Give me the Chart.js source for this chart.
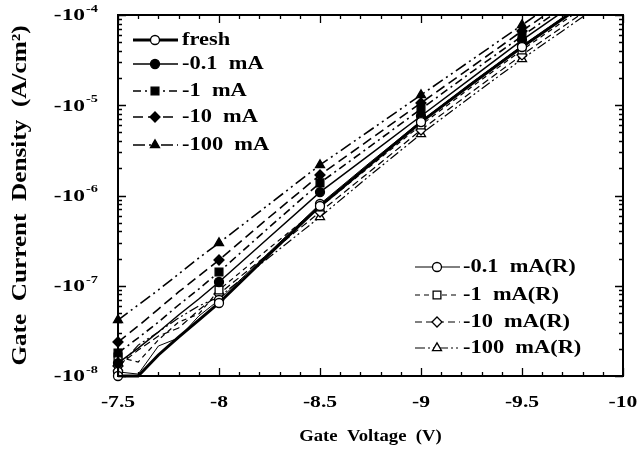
<!DOCTYPE html>
<html>
<head>
<meta charset="utf-8">
<script src="https://cdn.jsdelivr.net/npm/chart.js@4.4.1/dist/chart.umd.min.js"></script>
<style>
html,body{margin:0;padding:0;background:#fff;}
canvas{display:block;}
</style>
</head>
<body>
<canvas id="c" width="639" height="460"></canvas>
<script>
// Gate voltage (V) sample points
const volts = [-7.5,-7.6,-7.7,-7.8,-7.9,-8,-8.25,-8.5,-8.75,-9,-9.25,-9.5,-9.75,-10];
// voltages that carry a marker
const markerVolts = [-7.5,-8,-8.5,-9,-9.5];
// |gate current density| (A/cm^2); the plotted values are negative
const fresh  = [1.00e-8,1.00e-8,1.71e-8,2.70e-8,4.17e-8,6.44e-8,2.25e-7,7.65e-7,2.23e-6,6.51e-6,1.72e-5,4.42e-5,1.08e-4,2.64e-4];
const s01mA  = [1.39e-8,2.04e-8,3.07e-8,4.74e-8,7.13e-8,1.10e-7,3.47e-7,1.09e-6,2.88e-6,7.60e-6,2.00e-5,5.28e-5,1.29e-4,3.16e-4];
const s1mA   = [1.80e-8,2.64e-8,3.96e-8,6.12e-8,9.20e-8,1.42e-7,4.48e-7,1.38e-6,3.53e-6,9.08e-6,2.33e-5,5.85e-5,1.43e-4,3.49e-4];
const s10mA  = [2.38e-8,3.58e-8,5.52e-8,8.53e-8,1.28e-7,1.93e-7,5.78e-7,1.69e-6,4.23e-6,1.06e-5,2.65e-5,6.65e-5,1.63e-4,3.96e-4];
const s100mA = [4.17e-8,6.12e-8,8.98e-8,1.35e-7,2.03e-7,2.98e-7,8.05e-7,2.18e-6,5.32e-6,1.30e-5,3.17e-5,7.74e-5,1.89e-4,4.62e-4];
const r01mA  = [1.11e-8,1.05e-8,2.15e-8,2.64e-8,4.62e-8,6.95e-8,2.37e-7,8.05e-7,2.35e-6,6.68e-6,1.77e-5,4.54e-5,1.11e-4,2.70e-4];
const r1mA   = [1.62e-8,1.43e-8,2.51e-8,3.96e-8,4.86e-8,8.98e-8,2.62e-7,7.46e-7,2.12e-6,6.04e-6,1.59e-5,4.09e-5,1.00e-4,2.44e-4];
const r10mA  = [1.29e-8,1.94e-8,2.77e-8,3.40e-8,5.38e-8,8.11e-8,2.31e-7,6.56e-7,1.87e-6,5.32e-6,1.40e-5,3.61e-5,8.81e-5,2.15e-4];
const r100mA = [1.23e-8,2.20e-8,3.07e-8,4.40e-8,5.97e-8,7.50e-8,2.08e-7,5.78e-7,1.69e-6,4.80e-6,1.26e-5,3.25e-5,7.94e-5,1.94e-4];

const seriesLabels = ['fresh','-0.1  mA','-1  mA','-10  mA','-100  mA','-0.1  mA(R)','-1  mA(R)','-10  mA(R)','-100  mA(R)'];
const seriesValues = [fresh,s01mA,s1mA,s10mA,s100mA,r01mA,r1mA,r10mA,r100mA];

const xTickValues = [-7.5,-8,-8.5,-9,-9.5,-10];
const xTickLabels = ['-7.5','-8','-8.5','-9','-9.5','-10'];
const yTickValues = [1e-8,1e-7,1e-6,1e-5,1e-4];
const yTickExps   = ['-8','-7','-6','-5','-4'];

// styles (kept separate from data)
const styles = [
  {w:3.0, dash:[], marker:'circle', r:4.5, filled:false},
  {w:1.5, dash:[], marker:'circle', r:4.5, filled:true},
  {w:1.6, dash:[8,4,2,4], marker:'rect', r:5.5, filled:true},
  {w:1.6, dash:[10,5], marker:'rectRot', r:5, filled:true},
  {w:1.6, dash:[12,4,2,4,2,4], marker:'triangle', r:5.2, filled:true},
  {w:1.0, dash:[], marker:'circle', r:4.5, filled:false},
  {w:1.2, dash:[5,4], marker:'rect', r:5.5, filled:false},
  {w:1.2, dash:[7,4], marker:'rectRot', r:5, filled:false},
  {w:1.2, dash:[10,3,2,3,2,3], marker:'triangle', r:5.2, filled:false}
];

const FONT = '"Liberation Serif","Times New Roman",serif';

function drawText(ctx, text, x, y, size, sx, align) {
  ctx.save();
  ctx.font = 'bold ' + size + 'px ' + FONT;
  const w = ctx.measureText(text).width * sx;
  let left = x;
  if (align === 'center') left = x - w / 2;
  else if (align === 'right') left = x - w;
  ctx.translate(left, y);
  ctx.scale(sx, 1);
  ctx.textAlign = 'left';
  ctx.textBaseline = 'middle';
  ctx.fillStyle = '#000';
  ctx.fillText(text, 0, 0);
  ctx.restore();
  return w;
}

function legendRow(ctx, idx, x0, x1, xm, y, tx) {
  const st = styles[idx];
  ctx.save();
  ctx.strokeStyle = '#000';
  ctx.lineWidth = st.w;
  ctx.setLineDash(st.dash);
  ctx.beginPath();
  ctx.moveTo(x0, y);
  ctx.lineTo(x1, y);
  ctx.stroke();
  ctx.setLineDash([]);
  ctx.fillStyle = st.filled ? '#000' : '#fff';
  ctx.lineWidth = 1.3;
  Chart.helpers.drawPoint(ctx, {pointStyle: st.marker, radius: st.r, rotation: 0, borderWidth: 1.3}, xm, y);
  ctx.restore();
  drawText(ctx, seriesLabels[idx], tx, y, 19, 1.18, 'left');
}

const framePlugin = {
  id: 'frame',
  afterDraw(chart) {
    const ctx = chart.ctx;
    const a = chart.chartArea;
    const xs = chart.scales.x, ys = chart.scales.y;
    ctx.save();
    ctx.strokeStyle = '#000';
    ctx.lineWidth = 2;
    ctx.strokeRect(a.left, a.top, a.right - a.left, a.bottom - a.top);
    ctx.lineWidth = 1.3;
    ctx.beginPath();
    // x ticks (inward), every 0.1 V, major every 0.5 V
    for (let i = 0; i <= 25; i++) {
      const v = -7.5 - i * 0.1;
      const px = Math.round(xs.getPixelForValue(v)) + 0.5;
      const len = (i % 5 === 0) ? 8 : 4;
      ctx.moveTo(px, a.bottom); ctx.lineTo(px, a.bottom - len);
      ctx.moveTo(px, a.top); ctx.lineTo(px, a.top + len);
    }
    // y ticks (inward), log minor ticks
    for (let d = -8; d <= -4; d++) {
      for (let m = 1; m <= 9; m++) {
        if (d === -4 && m > 1) break;
        const val = m * Math.pow(10, d);
        const py = Math.round(ys.getPixelForValue(val)) + 0.5;
        const len = (m === 1) ? 8 : 4;
        ctx.moveTo(a.left, py); ctx.lineTo(a.left + len, py);
        ctx.moveTo(a.right, py); ctx.lineTo(a.right - len, py);
      }
    }
    ctx.stroke();
    ctx.restore();

    // x tick labels
    xTickValues.forEach((v, i) => {
      drawText(ctx, xTickLabels[i], xs.getPixelForValue(v), a.bottom + 27, 16, 1.35, 'center');
    });
    // y tick labels: -10 with superscript exponent
    yTickValues.forEach((v, i) => {
      const py = ys.getPixelForValue(v);
      const right = a.left - 20;
      const sw = drawText(ctx, yTickExps[i], right, py - 6, 11, 1.3, 'right');
      drawText(ctx, '-10', right - sw - 1, py + 1, 17, 1.38, 'right');
    });
    // axis titles
    drawText(ctx, 'Gate  Voltage  (V)', (a.left + a.right) / 2, a.bottom + 61, 17, 1.1, 'center');
    ctx.save();
    ctx.translate(21, (a.top + a.bottom) / 2);
    ctx.rotate(-Math.PI / 2);
    drawText(ctx, 'Gate  Current  Density  (A/cm\u00B2)', 0, 0, 21, 1.2, 'center');
    ctx.restore();

    // legends
    const rows1 = [40, 64, 91, 117, 145];
    for (let i = 0; i < 5; i++) legendRow(ctx, i, 133, 178, 155, rows1[i], 182);
    const rows2 = [267, 295, 322, 348];
    for (let i = 0; i < 4; i++) legendRow(ctx, 5 + i, 415, 460, 437, rows2[i], 463);
  }
};

new Chart(document.getElementById('c'), {
  type: 'line',
  data: {
    datasets: seriesValues.map((vals, k) => {
      const st = styles[k];
      return {
        label: seriesLabels[k],
        data: volts.map((v, i) => ({x: v, y: vals[i]})),
        borderColor: '#000',
        borderWidth: st.w,
        borderDash: st.dash,
        pointStyle: st.marker,
        pointRadius: (c) => markerVolts.includes(volts[c.dataIndex]) ? st.r : 0,
        pointBackgroundColor: st.filled ? '#000' : '#fff',
        pointBorderColor: '#000',
        pointBorderWidth: 1.3,
        tension: 0,
        fill: false,
        clip: {left: 10, top: 0, right: 0, bottom: 10}
      };
    })
  },
  options: {
    responsive: false,
    animation: false,
    events: [],
    layout: {padding: {top: 15, right: 16, left: 0, bottom: 0}},
    plugins: {legend: {display: false}, tooltip: {enabled: false}},
    scales: {
      x: {
        type: 'linear', min: -10, max: -7.5, reverse: true,
        grid: {display: false}, border: {display: false}, ticks: {display: false},
        afterFit(s) { s.height = 84; }
      },
      y: {
        type: 'logarithmic', min: 1e-8, max: 1e-4,
        grid: {display: false}, border: {display: false}, ticks: {display: false},
        afterFit(s) { s.width = 118; }
      }
    }
  },
  plugins: [framePlugin]
});
</script>
</body>
</html>
